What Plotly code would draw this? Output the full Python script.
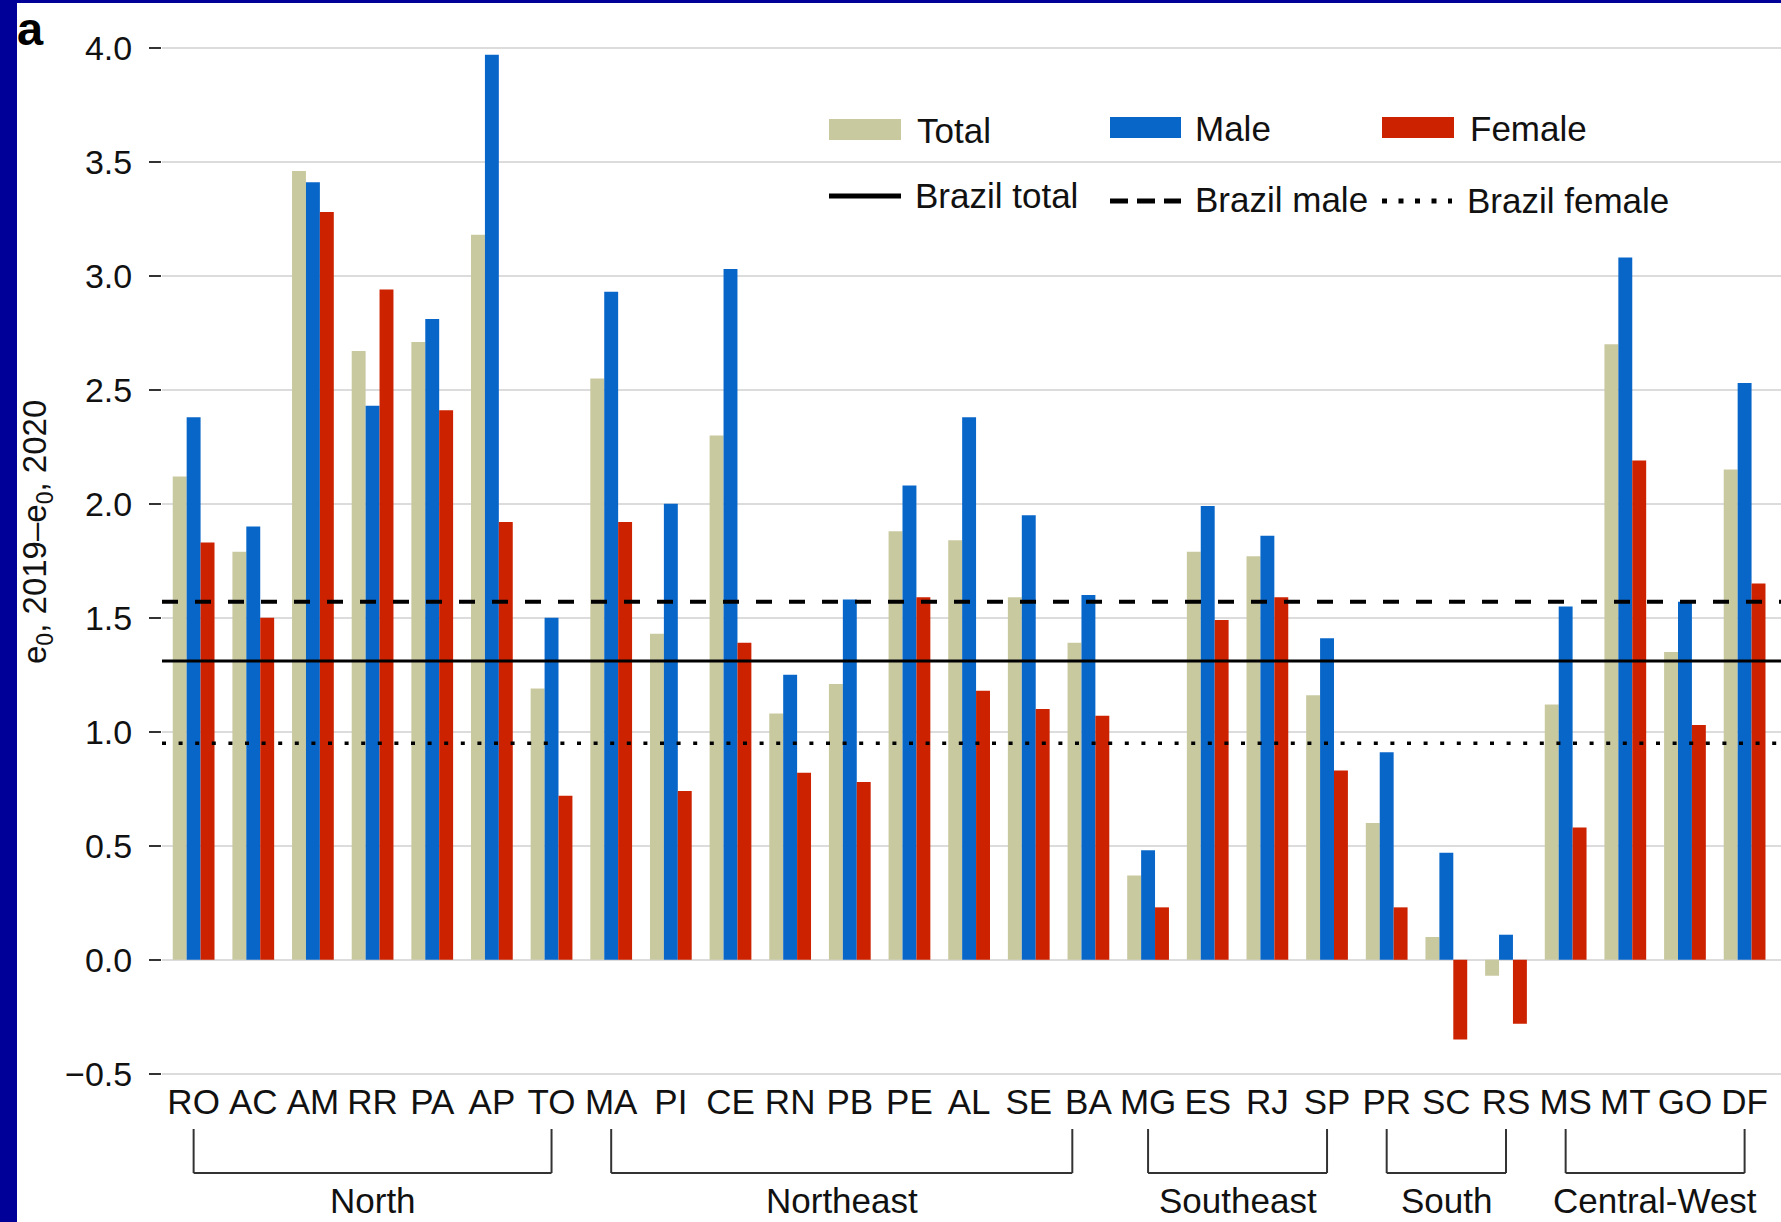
import plotly.graph_objects as go

# Decline in life expectancy at birth between 2019 and 2020, by state
states = ["RO", "AC", "AM", "RR", "PA", "AP", "TO",
          "MA", "PI", "CE", "RN", "PB", "PE", "AL", "SE", "BA",
          "MG", "ES", "RJ", "SP",
          "PR", "SC", "RS",
          "MS", "MT", "GO", "DF"]
total = [2.12, 1.79, 3.46, 2.67, 2.71, 3.18, 1.19,
         2.55, 1.43, 2.30, 1.08, 1.21, 1.88, 1.84, 1.59, 1.39,
         0.37, 1.79, 1.77, 1.16,
         0.60, 0.10, -0.07,
         1.12, 2.70, 1.35, 2.15]
male = [2.38, 1.90, 3.41, 2.43, 2.81, 3.97, 1.50,
        2.93, 2.00, 3.03, 1.25, 1.58, 2.08, 2.38, 1.95, 1.60,
        0.48, 1.99, 1.86, 1.41,
        0.91, 0.47, 0.11,
        1.55, 3.08, 1.57, 2.53]
female = [1.83, 1.50, 3.28, 2.94, 2.41, 1.92, 0.72,
          1.92, 0.74, 1.39, 0.82, 0.78, 1.59, 1.18, 1.10, 1.07,
          0.23, 1.49, 1.59, 0.83,
          0.23, -0.35, -0.28,
          0.58, 2.19, 1.03, 1.65]

# National reference values
brazil_total = 1.31
brazil_male = 1.57
brazil_female = 0.95

# Regions and the states that open/close each group
regions = ["North", "Northeast", "Southeast", "South", "Central-West"]
region_first = ["RO", "MA", "MG", "PR", "MS"]
region_last = ["TO", "BA", "SP", "RS", "DF"]

TAN, BLUE, RED = "#c9c9a0", "#0866c9", "#cc2200"
INK = "#111111"
FONT = "Liberation Sans, Arial, sans-serif"

W, H = 1781, 1222
ML, MR, MT, MB = 162, 0, 0, 133
PW, PH = W - ML - MR, H - MT - MB


def px(x):
    return (x - ML) / PW


def py(y):
    return 1 - (y - MT) / PH


fig = go.Figure()
for name, vals, col in [("Total", total, TAN), ("Male", male, BLUE), ("Female", female, RED)]:
    fig.add_trace(go.Bar(x=states, y=vals, name=name, marker=dict(color=col, line=dict(width=0)),
                         showlegend=False))

shapes = []
annotations = []

# Brazil reference lines across the panel
for val, dash, lw in [(brazil_total, "solid", 3),
                      (brazil_male, "16px,17px", 4),
                      (brazil_female, "4px,12.6px", 3.5)]:
    shapes.append(dict(type="line", xref="paper", yref="y", x0=0, x1=1, y0=val, y1=val,
                       line=dict(color="black", width=lw, dash=dash)))

# Region brackets under the state labels
trim = {"Northeast": (0.0, -0.27)}
y_top, y_bot = py(1129), py(1173)
for reg, a, b in zip(regions, region_first, region_last):
    t0, t1 = trim.get(reg, (0.0, 0.0))
    x0 = states.index(a) + t0
    x1 = states.index(b) + t1
    seg = dict(type="line", xref="x", yref="paper", line=dict(color="#333333", width=2))
    shapes.append({**seg, "x0": x0, "x1": x0, "y0": y_top, "y1": y_bot})
    shapes.append({**seg, "x0": x1, "x1": x1, "y0": y_top, "y1": y_bot})
    shapes.append({**seg, "x0": x0, "x1": x1, "y0": y_bot, "y1": y_bot})
    annotations.append(dict(text=reg, xref="x", yref="paper", x=(x0 + x1) / 2, y=py(1200),
                            xanchor="center", yanchor="middle", showarrow=False,
                            font=dict(size=35, color=INK, family=FONT)))

# Legend keys
def key_rect(x0, x1, y0, y1, col):
    shapes.append(dict(type="rect", xref="paper", yref="paper", x0=px(x0), x1=px(x1),
                       y0=py(y1), y1=py(y0), fillcolor=col, line=dict(width=0)))


def key_line(x0, x1, y, dash, lw):
    shapes.append(dict(type="line", xref="paper", yref="paper", x0=px(x0), x1=px(x1),
                       y0=py(y), y1=py(y), line=dict(color="black", width=lw, dash=dash)))


def key_text(text, x, y):
    annotations.append(dict(text=text, xref="paper", yref="paper", x=px(x), y=py(y),
                            xanchor="left", yanchor="middle", showarrow=False,
                            font=dict(size=35, color=INK, family=FONT)))


key_rect(829, 901, 119, 140, TAN)
key_text("Total", 915, 131)
key_rect(1110, 1181, 117, 138, BLUE)
key_text("Male", 1193, 128)
key_rect(1382, 1454, 117, 138, RED)
key_text("Female", 1468, 128)
key_line(829, 901, 196, "solid", 5)
key_text("Brazil total", 913, 195)
key_line(1110, 1181, 201, "18px,9px", 5)
key_text("Brazil male", 1193, 200)
key_line(1382, 1452, 201, "5px,11.5px", 5)
key_text("Brazil female", 1465, 201)

# Y axis title
annotations.append(dict(text="e<sub>0</sub>, 2019–e<sub>0</sub>, 2020", xref="paper", yref="paper",
                        x=px(37), y=py(532), textangle=-90, xanchor="center", yanchor="middle",
                        showarrow=False, font=dict(size=33, color=INK, family=FONT)))

# Panel letter
annotations.append(dict(text="<b>a</b>", xref="paper", yref="paper", x=px(16), y=py(1),
                        xanchor="left", yanchor="top", showarrow=False, borderpad=0,
                        font=dict(size=47, color="black", family=FONT)))

# Dark frame strips on the left and top edges
shapes.append(dict(type="rect", xref="paper", yref="paper", x0=px(0), x1=px(17), y0=py(H), y1=py(0),
                   fillcolor="#000099", line=dict(width=0)))
shapes.append(dict(type="rect", xref="paper", yref="paper", x0=px(0), x1=px(W), y0=py(3), y1=py(0),
                   fillcolor="#000099", line=dict(width=0)))

fig.update_layout(
    width=W, height=H,
    margin=dict(l=ML, r=MR, t=MT, b=MB, autoexpand=False),
    paper_bgcolor="white", plot_bgcolor="white",
    barmode="group", bargap=0.3, bargroupgap=0,
    showlegend=False,
    font=dict(family=FONT, color=INK),
    shapes=shapes, annotations=annotations,
    xaxis=dict(range=[-0.53, 26.61], showgrid=False, zeroline=False, showline=False,
               ticks="", ticklabelstandoff=-11,
               tickfont=dict(size=35, color=INK, family=FONT), automargin=False,
               fixedrange=True),
    yaxis=dict(range=[-0.5667, 4.2096], tick0=0, dtick=0.5, tickformat=".1f",
               showgrid=True, gridcolor="#dcdcdc", gridwidth=2, zeroline=False, showline=False,
               ticks="outside", ticklen=12, tickwidth=2, tickcolor="#333333",
               ticklabelstandoff=10,
               tickfont=dict(size=34, color=INK, family=FONT), automargin=False, fixedrange=True),
)

fig.write_html("out.html")
